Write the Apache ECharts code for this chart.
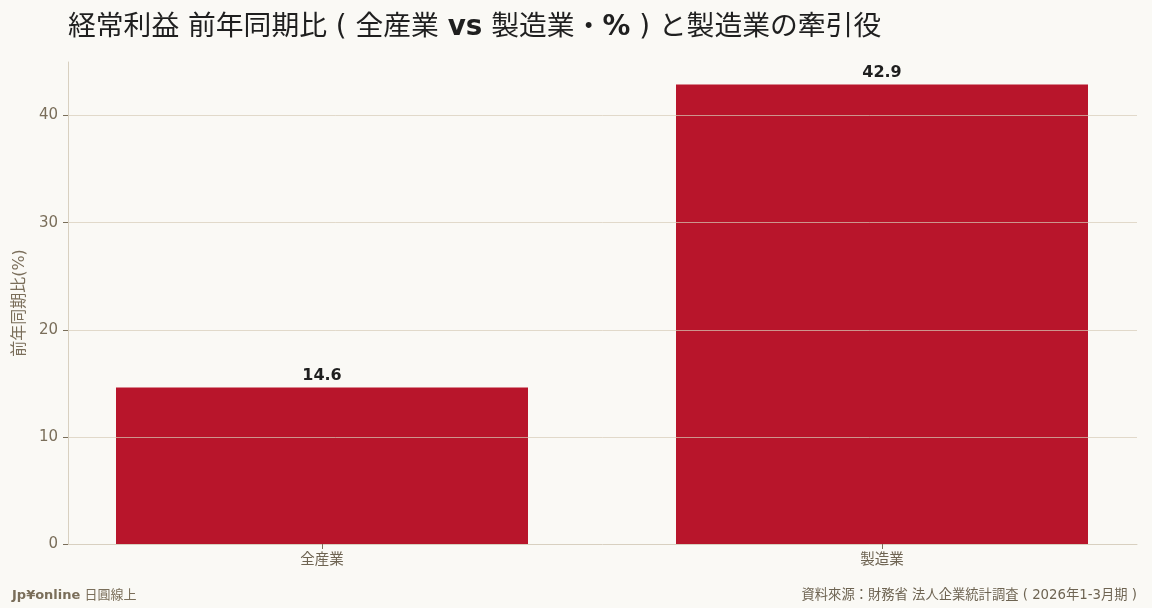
<!DOCTYPE html>
<html>
<head>
<meta charset="utf-8">
<script src="https://cdn.jsdelivr.net/npm/echarts@6/dist/echarts.min.js"></script>
<style>
html, body { margin: 0; padding: 0; background: #faf9f5; }
#main { width: 1152px; height: 608px; }
</style>
</head>
<body>
<div id="main"></div>
<script>
var categories = ['全産業', '製造業'];
var growth = [14.6, 42.9];   // 経常利益 前年同期比 (%)

var font = "'DejaVu Sans', 'Noto Sans CJK JP', sans-serif";
var myChart = echarts.init(document.getElementById('main'));

var option = {
    backgroundColor: '#faf9f5',
    textStyle: { fontFamily: font },
    title: [{
        text: '経常利益 前年同期比 ( 全産業 {b|vs} 製造業・{b|%} ) と製造業の牽引役',
        left: 63,
        top: 9,
        textStyle: {
            fontFamily: font,
            fontSize: 27.8,
            fontWeight: 'normal',
            color: '#1f1f1f',
            rich: {
                b: { fontFamily: font, fontSize: 27.8, fontWeight: 'bold', color: '#1f1f1f' }
            }
        }
    }, {
        text: '{b|Jp¥online} 日圓線上',
        left: 7,
        top: 584,
        textStyle: {
            fontFamily: font, fontSize: 13, fontWeight: 'normal', color: '#7a6e5a',
            rich: { b: { fontFamily: font, fontSize: 13, fontWeight: 'bold', color: '#7a6e5a' } }
        }
    }, {
        text: '資料來源：財務省 法人企業統計調査 ( 2026年1-3月期 )',
        right: 10,
        top: 584,
        textStyle: { fontFamily: font, fontSize: 13.3, fontWeight: 'normal', color: '#6e6452' }
    }],
    grid: [
        // bars (wider than the visible axes, like the original's centring)
        { left: 42, width: 1120, top: 62, bottom: 64, outerBoundsMode: 'none' },
        // axes + gridlines
        { left: 68, right: 15, top: 62, bottom: 64, outerBoundsMode: 'none' }
    ],
    xAxis: [{
        gridIndex: 0,
        type: 'category',
        data: categories,
        axisLine: { show: false },
        axisTick: { show: true, alignWithLabel: true, length: 5, lineStyle: { color: '#7a6e5a' } },
        axisLabel: { color: '#6e6452', fontSize: 14.5, margin: 9 }
    }, {
        gridIndex: 1,
        type: 'value',
        min: 0, max: 1,
        axisLine: { show: true, lineStyle: { color: '#d8d0c0' } },
        axisTick: { show: false },
        axisLabel: { show: false },
        splitLine: { show: false }
    }],
    yAxis: [{
        gridIndex: 0,
        type: 'value',
        min: 0, max: 45,
        show: false
    }, {
        gridIndex: 1,
        type: 'value',
        min: 0, max: 45, interval: 10,
        z: 5,
        name: '前年同期比(%)',
        nameLocation: 'middle',
        nameGap: 34,
        nameTextStyle: { color: '#7a6e5a', fontSize: 16 },
        axisLine: { show: true, lineStyle: { color: '#d8d0c0' } },
        axisTick: { show: true, length: 5, lineStyle: { color: '#7a6e5a' } },
        axisLabel: { color: '#7a6e5a', fontSize: 15, margin: 10, showMaxLabel: false },
        splitLine: { show: true, showMinLine: false, showMaxLine: false,
            lineStyle: { color: 'rgba(214,204,184,0.7)', width: 1 } }
    }],
    series: [{
        type: 'bar',
        xAxisIndex: 0,
        yAxisIndex: 0,
        data: growth,
        barWidth: 412,
        itemStyle: { color: '#b8152b' },
        label: {
            show: true,
            position: 'top',
            distance: 4,
            fontSize: 16,
            fontWeight: 'bold',
            color: '#1f1f1f',
            formatter: function (p) { return p.value.toFixed(1); }
        }
    }]
};

myChart.setOption(option);
</script>
</body>
</html>
